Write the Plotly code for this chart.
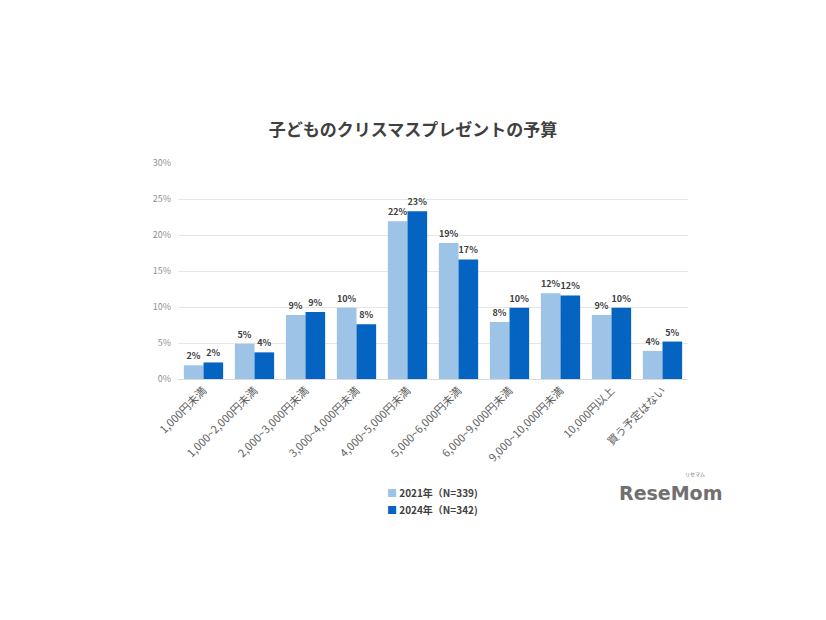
import plotly.graph_objects as go

categories = ["1,000円未満", "1,000~2,000円未満", "2,000~3,000円未満", "3,000~4,000円未満",
              "4,000~5,000円未満", "5,000~6,000円未満", "6,000~9,000円未満",
              "9,000~10,000円未満", "10,000円以上", "買う予定はない"]
values_2021 = [1.9, 4.9, 8.9, 9.9, 21.9, 18.9, 7.9, 11.9, 8.9, 3.9]
values_2024 = [2.3, 3.7, 9.3, 7.6, 23.3, 16.6, 9.9, 11.6, 9.9, 5.2]
series_names = ["2021年（N=339)", "2024年（N=342)"]
y_ticks = [0, 5, 10, 15, 20, 25, 30]
y_tick_labels = ["0%", "5%", "10%", "15%", "20%", "25%", "30%"]

FONT = "Noto Sans CJK JP"
LIGHT = "#9DC3E6"
DARK = "#0563C1"
colors = [LIGHT, DARK]

fig = go.Figure()
for name, vals, col in zip(series_names, [values_2021, values_2024], colors):
    fig.add_trace(go.Bar(
        x=categories, y=vals, name=name, marker=dict(color=col, line=dict(width=0)),
        texttemplate="%{y:.0f}%", textposition="outside", cliponaxis=False,
        textfont=dict(family=FONT, size=9, color="#404040", weight="bold"),
    ))

PL, PT, PW, PH = 178, 163, 510, 216


def px(x):
    return (x - PL) / PW


def py(y):
    return (PT + PH - y) / PH


fig.update_layout(
    width=826, height=620,
    paper_bgcolor="white", plot_bgcolor="white",
    margin=dict(l=PL, r=826 - PL - PW, t=PT, b=620 - PT - PH, autoexpand=False),
    barmode="group", bargap=0.23, bargroupgap=0,
    title=dict(text="子どものクリスマスプレゼントの予算", x=0.5, xanchor="center",
               y=1 - 130 / 620, yanchor="middle",
               font=dict(family=FONT, size=17, color="#404040", weight="bold")),
    font=dict(family=FONT, color="#595959"),
    showlegend=False,
    yaxis=dict(range=[0, 30], tickvals=y_ticks, ticktext=y_tick_labels,
               tickfont=dict(family=FONT, size=9, color="#909090"),
               showgrid=True, gridcolor="#E6E6E6", gridwidth=1, zeroline=False,
               showline=False, ticks="", ticklabelstandoff=6),
    xaxis=dict(tickangle=-45, tickfont=dict(family=FONT, size=11, color="#606060"),
               showline=True, linecolor="#D9D9D9", linewidth=1, ticks=""),
)

# legend built from series names/colors
for i, (name, col) in enumerate(zip(series_names, colors)):
    fig.add_annotation(
        text=f"<span style='color:{col}'>■</span> {name}",
        x=px(385), y=py(492 + 17 * i), xref="paper", yref="paper",
        xanchor="left", yanchor="middle", showarrow=False,
        font=dict(family=FONT, size=10, color="#404040", weight="bold"))

# logo text
fig.add_annotation(text="<b>ReseMom</b>", x=px(670), y=py(493), xref="paper", yref="paper",
                   xanchor="center", yanchor="middle", showarrow=False,
                   font=dict(family="DejaVu Sans", size=19, color="#707070"))
fig.add_annotation(text="リセマム", x=px(707), y=py(480), xref="paper", yref="paper",
                   showarrow=False, font=dict(family=FONT, size=5, color="#707070"))

fig.write_html("out.html")
